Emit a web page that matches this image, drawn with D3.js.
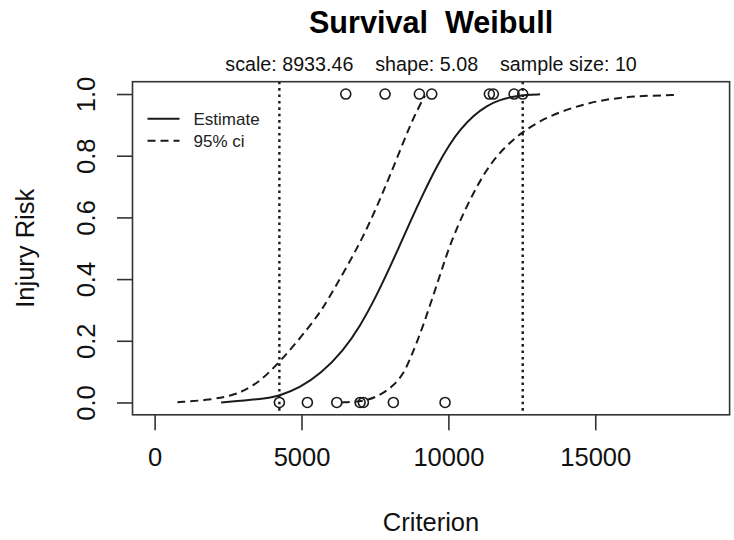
<!DOCTYPE html>
<html>
<head>
<meta charset="utf-8">
<script src="https://cdn.jsdelivr.net/npm/d3@7"></script>
<style>
  html, body { margin: 0; padding: 0; background: #fff; }
  svg text { font-family: "Liberation Sans", Arial, sans-serif; white-space: pre; }
</style>
</head>
<body>
<svg id="chart" width="734" height="540"></svg>
<script>
// Axis limits and ticks
const xLimits = [0, 18820];
const yLimits = [0, 1];
const xTicks = [0, 5000, 10000, 15000];
const yTicks = [0, 0.2, 0.4, 0.6, 0.8, 1.0];

// Observed criterion values: uninjured (risk 0) and injured (risk 1)
const riskZeroX = [4247, 5200, 6201, 6994, 7106, 8127, 9887];
const riskOneX = [6507, 7845, 9012, 9434, 11395, 11531, 12235, 12531];

// Fitted Weibull estimate [criterion, risk]
const estimateCurve = [
  [2263, 0], [3931, 0.014], [4271, 0.023], [4952, 0.049], [5633, 0.091],
  [6426, 0.168], [6994, 0.247], [7562, 0.348], [8015, 0.440],
  [8355, 0.511], [8695, 0.585], [9148, 0.678], [9604, 0.766], [10057, 0.840],
  [10398, 0.884], [10850, 0.930], [11306, 0.962], [11759, 0.982],
  [12211, 0.992], [12667, 0.997], [13120, 0.999]
];

// 95% confidence band: lower criterion bound
const ciLowerCurve = [
  [776, 0.001], [1889, 0.008], [2682, 0.024], [3022, 0.037], [3591, 0.068],
  [4271, 0.133], [4952, 0.208], [5609, 0.289], [5861, 0.327], [6426, 0.420],
  [6936, 0.508], [7334, 0.585], [7787, 0.684], [8243, 0.790], [8696, 0.899],
  [9036, 0.966], [9206, 0.995]
];

// 95% confidence band: upper criterion bound
const ciUpperCurve = [
  [6371, 0], [6824, 0.002], [7277, 0.008], [7675, 0.024], [8127, 0.053],
  [8468, 0.093], [8696, 0.140], [8924, 0.195], [9148, 0.251], [9377, 0.316],
  [9604, 0.381], [9829, 0.446], [10057, 0.511], [10398, 0.590], [10850, 0.680],
  [11306, 0.756], [11759, 0.812], [12211, 0.852], [12531, 0.877], [13120, 0.913],
  [13801, 0.942], [14482, 0.963], [15162, 0.979], [15843, 0.988],
  [16524, 0.994], [17817, 0.997]
];

const titleText = "Survival  Weibull";
const subtitleText = "scale: 8933.46    shape: 5.08    sample size: 10";
const legendItems = [
  { label: "Estimate", dash: null },
  { label: "95% ci", dash: "8,5" }
];

const svg = d3.select("#chart");
const W = 734, H = 540;
const margin = { top: 81.7, right: 4.4, bottom: 125.2, left: 132.5 };
const plotW = W - margin.left - margin.right;
const plotH = H - margin.top - margin.bottom;

// R-style 4% padding around data limits
function padded(lims) {
  const d = (lims[1] - lims[0]) * 0.04;
  return [lims[0] - d, lims[1] + d];
}

const x = d3.scaleLinear().domain(padded(xLimits)).range([0, plotW]);
const y = d3.scaleLinear().domain(padded(yLimits)).range([plotH, 0]);

const g = svg.append("g").attr("transform", `translate(${margin.left},${margin.top})`);
const ink = "#1a1a1a";

// Vertical reference lines at the smallest and largest observation
const allX = riskZeroX.concat(riskOneX);
const refLines = [d3.min(allX), d3.max(allX)];
g.selectAll("line.ref").data(refLines).join("line")
  .attr("class", "ref")
  .attr("x1", d => x(d)).attr("x2", d => x(d))
  .attr("y1", 0).attr("y2", plotH)
  .attr("stroke", ink).attr("stroke-width", 2.4)
  .attr("stroke-dasharray", "2.6,3.8");

const line = d3.line().x(d => x(d[0])).y(d => y(d[1])).curve(d3.curveBasis);

g.append("path").datum(ciLowerCurve).attr("d", line)
  .attr("fill", "none").attr("stroke", ink).attr("stroke-width", 2)
  .attr("stroke-dasharray", "8,5");
g.append("path").datum(ciUpperCurve).attr("d", line)
  .attr("fill", "none").attr("stroke", ink).attr("stroke-width", 2)
  .attr("stroke-dasharray", "8,5");
g.append("path").datum(estimateCurve).attr("d", line)
  .attr("fill", "none").attr("stroke", ink).attr("stroke-width", 2);

// Observations as open circles
const pts = riskZeroX.map(v => [v, 0]).concat(riskOneX.map(v => [v, 1]));
g.selectAll("circle.obs").data(pts).join("circle")
  .attr("class", "obs")
  .attr("cx", d => x(d[0])).attr("cy", d => y(d[1]))
  .attr("r", 5).attr("fill", "none")
  .attr("stroke", ink).attr("stroke-width", 1.6);

// Plot frame
g.append("rect").attr("x", 0).attr("y", 0).attr("width", plotW).attr("height", plotH)
  .attr("fill", "none").attr("stroke", "#333").attr("stroke-width", 1.6);

// Axes
const axisFont = 25.5;
const xAxis = g.append("g").attr("transform", `translate(0,${plotH})`)
  .call(d3.axisBottom(x).tickValues(xTicks).tickFormat(d3.format("d")).tickSize(15.5).tickPadding(18));
xAxis.select(".domain").remove();
xAxis.selectAll("line").attr("stroke", "#333").attr("stroke-width", 1.6);
xAxis.selectAll("text").attr("font-size", axisFont).attr("fill", "#111")
  .attr("font-family", "Liberation Sans, Arial, sans-serif");

const yAxis = g.append("g")
  .call(d3.axisLeft(y).tickValues(yTicks).tickFormat(d3.format(".1f")).tickSize(15.5));
yAxis.select(".domain").remove();
yAxis.selectAll("line").attr("stroke", "#333").attr("stroke-width", 1.6);
yAxis.selectAll("text")
  .attr("transform", "rotate(-90)")
  .attr("x", 0).attr("y", -46.2).attr("dy", "0.36em")
  .attr("text-anchor", "middle")
  .attr("font-size", axisFont).attr("fill", "#111")
  .attr("font-family", "Liberation Sans, Arial, sans-serif");

// Axis titles
svg.append("text")
  .attr("x", margin.left + plotW / 2).attr("y", 522).attr("dy", "0.36em")
  .attr("text-anchor", "middle").attr("font-size", axisFont).attr("fill", "#111")
  .text("Criterion");
svg.append("text")
  .attr("transform", `translate(25,${margin.top + plotH / 2}) rotate(-90)`)
  .attr("dy", "0.36em")
  .attr("text-anchor", "middle").attr("font-size", axisFont).attr("fill", "#111")
  .text("Injury Risk");

// Title and subtitle
svg.append("text")
  .attr("x", margin.left + plotW / 2).attr("y", 22).attr("dy", "0.36em")
  .attr("text-anchor", "middle").attr("font-size", 30.6).attr("font-weight", "bold")
  .attr("fill", "#000")
  .text(titleText);
svg.append("text")
  .attr("x", margin.left + plotW / 2).attr("y", 64).attr("dy", "0.36em")
  .attr("text-anchor", "middle").attr("font-size", 19.7).attr("fill", "#111")
  .text(subtitleText);

// Legend
const legend = g.append("g").attr("transform", "translate(15,37)");
legendItems.forEach((item, i) => {
  const row = legend.append("g").attr("transform", `translate(0,${i * 22})`);
  row.append("line").attr("x1", 0).attr("x2", 32).attr("y1", 0).attr("y2", 0)
    .attr("stroke", ink).attr("stroke-width", 2)
    .attr("stroke-dasharray", item.dash);
  row.append("text").attr("x", 46).attr("y", 0).attr("dy", "0.36em")
    .attr("font-size", 17).attr("fill", "#222").text(item.label);
});
</script>
</body>
</html>
